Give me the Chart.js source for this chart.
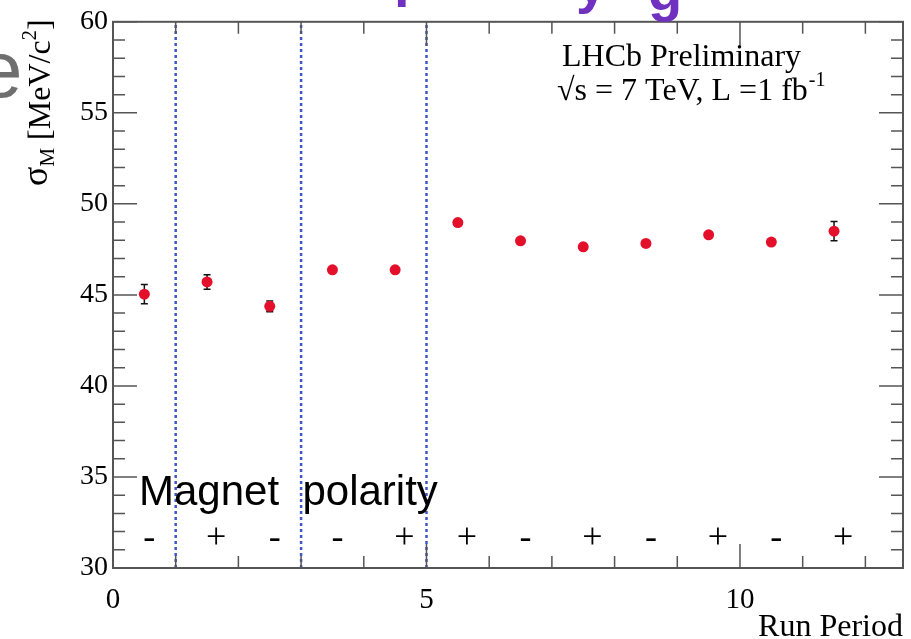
<!DOCTYPE html>
<html>
<head>
<meta charset="utf-8">
<script src="https://cdn.jsdelivr.net/npm/chart.js@4/dist/chart.umd.min.js"></script>
<style>
html,body{margin:0;padding:0;background:#fff;}
#wrap{width:911px;height:639px;position:relative;}
</style>
</head>
<body>
<div id="wrap"><canvas id="c" width="911" height="639"></canvas></div>
<script>
// ---- data ----
const runPeriods = [0.5, 1.5, 2.5, 3.5, 4.5, 5.5, 6.5, 7.5, 8.5, 9.5, 10.5, 11.5];
const sigmaM     = [45.04, 45.71, 44.37, 46.38, 46.38, 48.97, 47.97, 47.64, 47.83, 48.30, 47.90, 48.50];
const sigmaErr   = [0.53, 0.40, 0.30, 0.12, 0.12, 0.14, 0.14, 0.12, 0.12, 0.14, 0.14, 0.53];
const polarity   = ['-', '+', '-', '-', '+', '+', '-', '+', '-', '+', '-', '+'];
const boundaries = [1, 3, 5];
const xTickLabels = [0, 5, 10];
const yTickLabels = [30, 35, 40, 45, 50, 55, 60];

const SERIF = '"Liberation Serif", "DejaVu Serif", serif';
const SANS = '"Liberation Sans", Arial, sans-serif';
const FRAME = '#555555';

const datasets = boundaries.map(b => ({
  type: 'line',
  data: [{x: b, y: 30}, {x: b, y: 60}],
  borderColor: '#3f57c4',
  borderWidth: 2.5,
  borderDash: [3, 3],
  pointRadius: 0,
  fill: false,
  order: 2
}));
datasets.push({
  type: 'scatter',
  data: runPeriods.map((x, i) => ({x: x, y: sigmaM[i]})),
  backgroundColor: '#e4102b',
  borderWidth: 0,
  pointRadius: 5.5,
  order: 1
});

const rootPlugin = {
  id: 'rootStyle',
  beforeDatasetsDraw(chart) {
    const ctx = chart.ctx, xs = chart.scales.x, ys = chart.scales.y;
    ctx.save();
    ctx.strokeStyle = '#111';
    ctx.lineWidth = 1.5;
    runPeriods.forEach((x, i) => {
      const px = xs.getPixelForValue(x);
      const y1 = ys.getPixelForValue(sigmaM[i] - sigmaErr[i]);
      const y2 = ys.getPixelForValue(sigmaM[i] + sigmaErr[i]);
      ctx.beginPath();
      ctx.moveTo(px, y1); ctx.lineTo(px, y2);
      ctx.moveTo(px - 3.5, y1); ctx.lineTo(px + 3.5, y1);
      ctx.moveTo(px - 3.5, y2); ctx.lineTo(px + 3.5, y2);
      ctx.stroke();
    });
    ctx.restore();
  },
  afterDraw(chart) {
    const ctx = chart.ctx, xs = chart.scales.x, ys = chart.scales.y;
    const a = chart.chartArea;
    ctx.save();
    // frame
    ctx.strokeStyle = FRAME;
    ctx.lineWidth = 2;
    ctx.strokeRect(a.left, a.top, a.right - a.left, a.bottom - a.top);
    // ticks
    ctx.lineWidth = 1.5;
    ctx.beginPath();
    for (let v = 0; v <= 12; v++) {
      const px = xs.getPixelForValue(v);
      const len = (v % 5 === 0) ? 24 : 12;
      ctx.moveTo(px, a.bottom); ctx.lineTo(px, a.bottom - len);
      ctx.moveTo(px, a.top); ctx.lineTo(px, a.top + len);
    }
    for (let v = 30; v <= 60; v++) {
      const py = ys.getPixelForValue(v);
      const len = (v % 5 === 0) ? 24 : 12;
      ctx.moveTo(a.left, py); ctx.lineTo(a.left + len, py);
      ctx.moveTo(a.right, py); ctx.lineTo(a.right - len, py);
    }
    ctx.stroke();

    // y axis title (rotated)
    ctx.fillStyle = '#000';
    ctx.save();
    ctx.translate(50, 186);
    ctx.rotate(-Math.PI / 2);
    ctx.textAlign = 'left';
    ctx.textBaseline = 'alphabetic';
    let cx = 0;
    ctx.font = '36px ' + SERIF;
    ctx.fillText('σ', cx, -3); cx += ctx.measureText('σ').width;
    ctx.font = '21px ' + SERIF;
    ctx.fillText('M', cx, 4); cx += ctx.measureText('M').width;
    ctx.font = '32px ' + SERIF;
    ctx.fillText(' [MeV/c', cx, 0); cx += ctx.measureText(' [MeV/c').width;
    ctx.font = '21px ' + SERIF;
    ctx.fillText('2', cx, -14); cx += ctx.measureText('2').width;
    ctx.font = '32px ' + SERIF;
    ctx.fillText(']', cx, 0);
    ctx.restore();

    // x axis title
    ctx.font = '32px ' + SERIF;
    ctx.textAlign = 'right';
    ctx.fillText('Run Period', a.right, 636);

    // LHCb labels
    ctx.textAlign = 'left';
    ctx.font = '32px ' + SERIF;
    ctx.fillText('LHCb Preliminary', 562, 66);
    let lx = 557;
    const part1 = '√s = 7 TeV, L =1 fb';
    ctx.fillText(part1, lx, 100); lx += ctx.measureText(part1).width;
    ctx.font = '20px ' + SERIF;
    ctx.fillText('-1', lx + 1, 86);

    // Magnet polarity
    ctx.font = '42px ' + SANS;
    ctx.fillText('Magnet  polarity', 139, 505);
    ctx.font = '36px ' + SERIF;
    ctx.textBaseline = 'middle';
    polarity.forEach((s, i) => {
      const px = xs.getPixelForValue(runPeriods[i]);
      const py = ys.getPixelForValue(31.6);
      ctx.fillText(s, px - 1, py);
    });
    ctx.textBaseline = 'alphabetic';

    // fragments of slide text cut at the edges
    ctx.fillStyle = '#7030c0';
    ctx.font = 'bold 56px ' + SANS;
    ctx.fillText('p', 394, -5);
    ctx.fillText('y', 576, 2);
    ctx.fillText('g', 648, 10);
    ctx.fillStyle = '#6f6f6f';
    ctx.font = '80px ' + SANS;
    ctx.fillText('e', -22, 97);

    ctx.restore();
  }
};

new Chart(document.getElementById('c'), {
  data: { datasets: datasets },
  options: {
    responsive: false,
    animation: false,
    layout: { padding: { top: 16, right: 8, left: 0, bottom: 0 } },
    plugins: { legend: { display: false }, tooltip: { enabled: false } },
    scales: {
      x: {
        type: 'linear', min: 0, max: 12.6,
        grid: { display: false, drawTicks: false },
        border: { display: false },
        afterFit(s) { s.height = 71; },
        ticks: {
          stepSize: 1, autoSkip: false, includeBounds: false, maxRotation: 0,
          padding: 15, color: '#000',
          font: { family: SERIF, size: 29 },
          callback: v => xTickLabels.includes(v) ? String(v) : ''
        }
      },
      y: {
        type: 'linear', min: 30, max: 60,
        grid: { display: false, drawTicks: false },
        border: { display: false },
        afterFit(s) { s.width = 113; },
        ticks: {
          stepSize: 1, autoSkip: false, padding: 5, color: '#000',
          font: { family: SERIF, size: 28 },
          callback: v => yTickLabels.includes(v) ? String(v) : ''
        }
      }
    }
  },
  plugins: [rootPlugin]
});
</script>
</body>
</html>
